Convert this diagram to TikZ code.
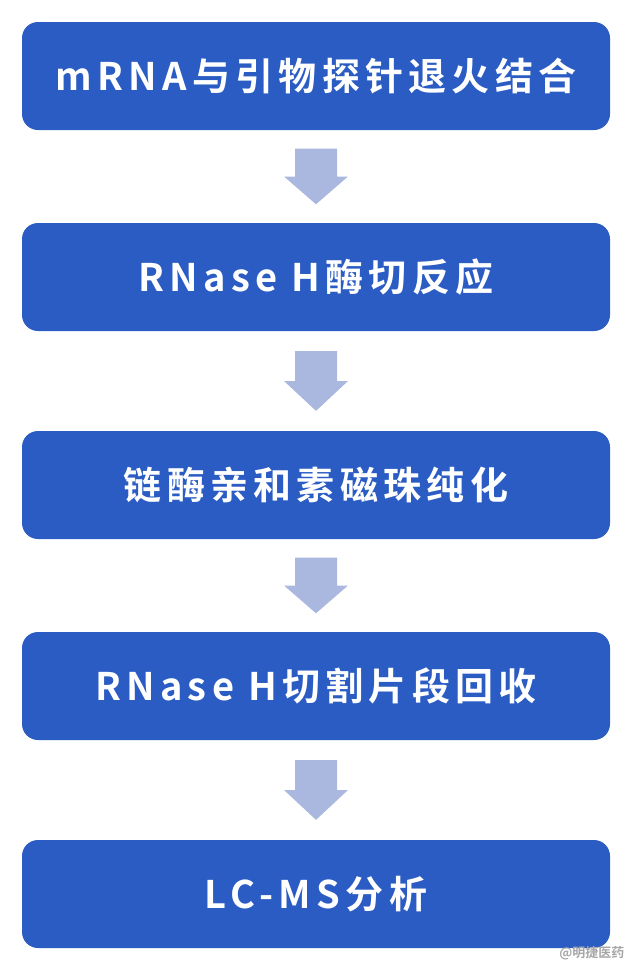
\documentclass[tikz,border=0pt]{standalone}
\usepackage{fontspec}
\newfontfamily\cjk{Noto Sans CJK SC Bold}
\newfontfamily\cjkwide[LetterSpace=14]{Noto Sans CJK SC Bold}
\definecolor{boxblue}{HTML}{2A5CC4}
\definecolor{arrblue}{HTML}{AAB8E0}
\begin{document}
\begin{tikzpicture}[x=1pt,y=-1pt,
  stepbox/.style={fill=boxblue,rounded corners=16pt,minimum width=588pt,minimum height=108pt,inner sep=0pt,text=white,font=\cjkwide\fontsize{38}{44}\selectfont},
  flowarrow/.style={fill=arrblue}]
\useasboundingbox (0,0) rectangle (640,975);
\node[stepbox] (b1) at (316,76) {mRNA与引物探针退火结合};
\node[stepbox] (b2) at (316,277) {RNase H酶切反应};
\node[stepbox] (b3) at (316,485) {链酶亲和素磁珠纯化};
\node[stepbox] (b4) at (316,686) {RNase H切割片段回收};
\node[stepbox] (b5) at (316,894) {LC-MS分析};
\foreach \a/\b in {b1/b2,b2/b3,b3/b4,b4/b5}{
  \path (\a.south) -- (\b.north) coordinate[pos=0.2] (s) coordinate[pos=0.5] (m) coordinate[pos=0.8] (t);
  \fill[flowarrow] ([xshift=-21pt]s) -- ([xshift=21pt]s) -- ([xshift=21pt]m) -- ([xshift=32pt]m) -- (t) -- ([xshift=-32pt]m) -- ([xshift=-21pt]m) -- cycle;
}
\node[anchor=east,text=gray!70,font=\cjk\fontsize{13}{15}\selectfont] (wm) at (628,953) {@明捷医药};
\end{tikzpicture}
\end{document}
